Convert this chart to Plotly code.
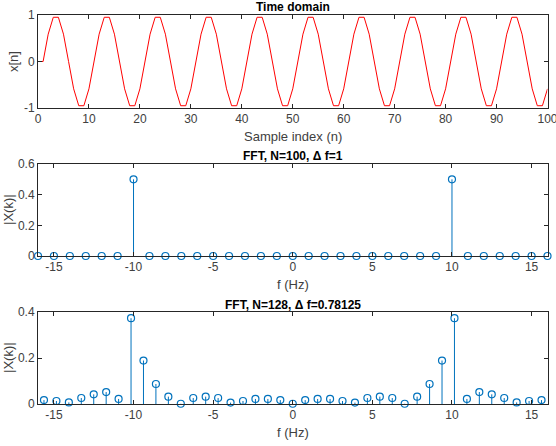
import plotly.graph_objects as go

# ---- Data ----
n_idx = list(range(0, 101))
x_n = [0.0,
       0.0, 0.588, 0.951, 0.951, 0.588, 0.0, -0.588, -0.951, -0.951, -0.588,
       0.0, 0.588, 0.951, 0.951, 0.588, 0.0, -0.588, -0.951, -0.951, -0.588,
       0.0, 0.588, 0.951, 0.951, 0.588, 0.0, -0.588, -0.951, -0.951, -0.588,
       0.0, 0.588, 0.951, 0.951, 0.588, 0.0, -0.588, -0.951, -0.951, -0.588,
       0.0, 0.588, 0.951, 0.951, 0.588, 0.0, -0.588, -0.951, -0.951, -0.588,
       0.0, 0.588, 0.951, 0.951, 0.588, 0.0, -0.588, -0.951, -0.951, -0.588,
       0.0, 0.588, 0.951, 0.951, 0.588, 0.0, -0.588, -0.951, -0.951, -0.588,
       0.0, 0.588, 0.951, 0.951, 0.588, 0.0, -0.588, -0.951, -0.951, -0.588,
       0.0, 0.588, 0.951, 0.951, 0.588, 0.0, -0.588, -0.951, -0.951, -0.588,
       0.0, 0.588, 0.951, 0.951, 0.588, 0.0, -0.588, -0.951, -0.951, -0.588]

f100 = [-16, -15, -14, -13, -12, -11, -10, -9, -8, -7, -6, -5, -4, -3, -2, -1, 0,
        1, 2, 3, 4, 5, 6, 7, 8, 9, 10, 11, 12, 13, 14, 15, 16]
X100 = [0, 0, 0, 0, 0, 0, 0.5, 0, 0, 0, 0, 0, 0, 0, 0, 0, 0,
        0, 0, 0, 0, 0, 0, 0, 0, 0, 0.5, 0, 0, 0, 0, 0, 0]

f128 = [-15.625, -14.84375, -14.0625, -13.28125, -12.5, -11.71875, -10.9375,
        -10.15625, -9.375, -8.59375, -7.8125, -7.03125, -6.25, -5.46875,
        -4.6875, -3.90625, -3.125, -2.34375, -1.5625, -0.78125, 0.0,
        0.78125, 1.5625, 2.34375, 3.125, 3.90625, 4.6875, 5.46875, 6.25,
        7.03125, 7.8125, 8.59375, 9.375, 10.15625, 10.9375, 11.71875, 12.5,
        13.28125, 14.0625, 14.84375, 15.625]
X128 = [0.017, 0.013, 0.007, 0.026, 0.042, 0.052, 0.022,
        0.373, 0.189, 0.087, 0.032, 0.001, 0.026, 0.032,
        0.026, 0.006, 0.013, 0.022, 0.022, 0.017, 0.001,
        0.017, 0.022, 0.022, 0.013, 0.006, 0.026, 0.032, 0.026,
        0.001, 0.032, 0.087, 0.189, 0.373, 0.022, 0.052, 0.042,
        0.026, 0.007, 0.013, 0.017]

titles = ["Time domain", "FFT, N=100, \u0394 f=1", "FFT, N=128, \u0394 f=0.78125"]
xlabels = ["Sample index (n)", "f (Hz)", "f (Hz)"]
ylabels = ["x[n]", "|X(k)|", "|X(k)|"]

t_ticks = [0, 10, 20, 30, 40, 50, 60, 70, 80, 90, 100]
f_ticks = [-15, -10, -5, 0, 5, 10, 15]
y1_ticks = [-1, 0, 1]
y2_ticks = [0, 0.2, 0.4, 0.6]
y3_ticks = [0, 0.2, 0.4]

# ---- Layout helpers ----
W, H = 556, 446
FONT = "Liberation Sans, Arial, Helvetica, sans-serif"
AX = "#262626"
LBL = "#404040"
BLUE = "#0072BD"

def px_x(p):
    return p / W

def px_y(p):
    return 1 - p / H

def lab(v):
    return "%g" % v  # plain hyphen-minus as in reference

x_dom = [px_x(38), px_x(547.5)]
rows = [(15, 108), (164, 256), (312, 404)]

fig = go.Figure()

fig.add_trace(go.Scatter(x=n_idx, y=x_n, mode="lines",
                         line=dict(color="#ff0000", width=1),
                         xaxis="x", yaxis="y", showlegend=False))

def stem(f, v, xa, ya):
    sx, sy = [], []
    for a, b in zip(f, v):
        sx += [a, a, None]
        sy += [0, b, None]
    fig.add_trace(go.Scatter(x=sx, y=sy, mode="lines",
                             line=dict(color=BLUE, width=1),
                             xaxis=xa, yaxis=ya, showlegend=False))
    fig.add_trace(go.Scatter(x=f, y=v, mode="markers",
                             marker=dict(symbol="circle-open", size=7,
                                         color=BLUE, line=dict(width=1.2, color=BLUE)),
                             cliponaxis=False,
                             xaxis=xa, yaxis=ya, showlegend=False))

stem(f100, X100, "x2", "y2")
stem(f128, X128, "x3", "y3")

common = dict(showline=True, linecolor=AX, linewidth=1, mirror="ticks",
              ticks="inside", ticklen=4, tickcolor=AX, tickwidth=1,
              showgrid=False, zeroline=False, automargin=False,
              tickfont=dict(family=FONT, size=12, color=LBL))

layout = dict(width=W, height=H, margin=dict(l=0, r=0, t=0, b=0, autoexpand=False),
              plot_bgcolor="white", paper_bgcolor="white",
              font=dict(family=FONT, color=AX))

layout["xaxis"] = dict(domain=x_dom, anchor="y", range=[0, 100],
                       tickvals=t_ticks, ticktext=[lab(v) for v in t_ticks],
                       ticklabeloverflow="allow", **common)
layout["yaxis"] = dict(domain=[px_y(rows[0][1]), px_y(rows[0][0])], anchor="x",
                       range=[-1, 1], tickvals=y1_ticks,
                       ticktext=[lab(v) for v in y1_ticks], **common)
for i, (ya, yr, yt) in enumerate([("2", [0, 0.6], y2_ticks),
                                  ("3", [0, 0.4], y3_ticks)], start=1):
    layout["xaxis" + ya] = dict(domain=x_dom, anchor="y" + ya, range=[-16, 16],
                                tickvals=f_ticks, ticktext=[lab(v) for v in f_ticks],
                                **common)
    layout["yaxis" + ya] = dict(domain=[px_y(rows[i][1]), px_y(rows[i][0])],
                                anchor="x" + ya, range=yr, tickvals=yt,
                                ticktext=[lab(v) for v in yt], **common)

annos = []
xc = (x_dom[0] + x_dom[1]) / 2
ylab_x = [13.5, 8, 8]
for k, (t, (top, bot)) in enumerate(zip(titles, rows)):
    annos.append(dict(text="<b>%s</b>" % t, xref="paper", yref="paper",
                      x=xc, y=px_y(top - 7.5), borderpad=0,
                      xanchor="center", yanchor="middle", showarrow=False,
                      font=dict(family=FONT, size=12, color="#000000")))
    annos.append(dict(text=xlabels[k], xref="paper", yref="paper",
                      x=xc, y=px_y(bot + 28), xanchor="center", yanchor="middle",
                      showarrow=False, font=dict(family=FONT, size=13, color=LBL)))
    annos.append(dict(text=ylabels[k], xref="paper", yref="paper",
                      x=px_x(ylab_x[k]), y=px_y((top + bot) / 2),
                      xanchor="center", yanchor="middle", textangle=-90,
                      showarrow=False, font=dict(family=FONT, size=13, color=LBL)))
layout["annotations"] = annos

fig.update_layout(**layout)
fig.write_html("out.html")
